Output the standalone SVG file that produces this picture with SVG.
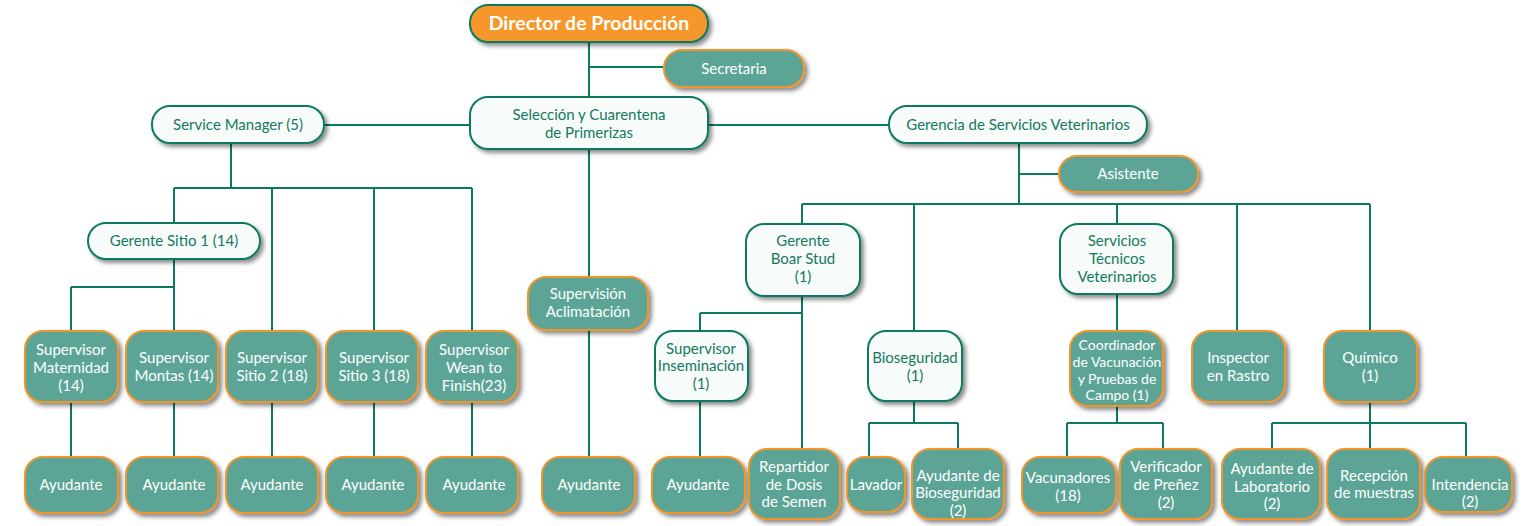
<svg xmlns="http://www.w3.org/2000/svg" width="1525" height="526" viewBox="0 0 1525 526">
<defs>
<filter id="sh" x="-20%" y="-20%" width="150%" height="160%">
<feDropShadow dx="3" dy="3" stdDeviation="2" flood-color="#000" flood-opacity="0.45"/>
</filter>
<style>
.n rect{stroke-width:2;filter:url(#sh)}
.w rect{fill:#f7fbf9;stroke:#0b7a5f}
.t rect{fill:#5ca596;stroke:#f0952c}
.o rect{fill:#f5972a;stroke:#0b7a5f}
text{font-family:Lato,"Noto Sans","Liberation Sans",sans-serif;font-size:15px;text-anchor:middle}
.w text{fill:#15795f}
.t text,.o text{fill:#ffffff}
.o text{font-weight:bold;font-size:19.5px}
.sm text{font-size:14px}
#edges path{fill:none;stroke:#0b7a5f;stroke-width:2}
</style>
</defs>
<rect width="1525" height="526" fill="#ffffff"/>
<g id="edges">
<path d="M589 42V97M589 67H664"/>
<path d="M324 125H470M708 125H889"/>
<path d="M589 149V277M589 330V457"/>
<path d="M231 143V188M174 188H472M174 188V223M272 188V331M374 188V331M472 188V331"/>
<path d="M174 259V331M71 287H174M71 287V331"/>
<path d="M71 402V457M174 402V457M272 402V457M374 402V457M472 402V457"/>
<path d="M1019 143V204M1019 174H1059M802 204H1370M802 204V224M914 204V331M1117 204V224M1237 204V331M1370 204V331"/>
<path d="M802 296V449M700 313H802M700 313V331M700 401V457"/>
<path d="M914 401V423M869 423H958M869 423V457M958 423V449"/>
<path d="M1117 294V331M1117 406V423M1067 423H1163M1067 423V457M1163 423V449"/>
<path d="M1370 402V449M1272 423H1466M1272 423V449M1466 423V457"/>
</g>
<g id="director" class="n o"><rect x="470" y="5" width="238" height="37" rx="18"/><text x="589" y="30">Director de Producción</text></g>
<g id="secretaria" class="n t"><rect x="664" y="50" width="140" height="37" rx="18"/><text x="734" y="74">Secretaria</text></g>
<g id="seleccion" class="n w"><rect x="470" y="97" width="238" height="52" rx="18"/><text x="589" y="120">Selección y Cuarentena</text><text x="589" y="138">de Primerizas</text></g>
<g id="service-manager" class="n w"><rect x="152" y="106" width="172" height="37" rx="18"/><text x="238" y="130">Service Manager (5)</text></g>
<g id="gerencia-vet" class="n w"><rect x="889" y="106" width="258" height="37" rx="18"/><text x="1018" y="130">Gerencia de Servicios Veterinarios</text></g>
<g id="asistente" class="n t"><rect x="1059" y="156" width="139" height="36" rx="18"/><text x="1128" y="179">Asistente</text></g>
<g id="gerente-sitio1" class="n w"><rect x="88" y="223" width="172" height="36" rx="18"/><text x="174" y="246">Gerente Sitio 1 (14)</text></g>
<g id="sup-maternidad" class="n t"><rect x="25" y="331" width="93" height="71" rx="18"/><text x="71" y="355">Supervisor</text><text x="71" y="373">Maternidad</text><text x="71" y="391">(14)</text></g>
<g id="sup-montas" class="n t"><rect x="126" y="331" width="92" height="71" rx="18"/><text x="174" y="363">Supervisor</text><text x="174" y="381">Montas (14)</text></g>
<g id="sup-sitio2" class="n t"><rect x="226" y="331" width="92" height="71" rx="18"/><text x="272" y="363">Supervisor</text><text x="272" y="381">Sitio 2 (18)</text></g>
<g id="sup-sitio3" class="n t"><rect x="326" y="331" width="92" height="71" rx="18"/><text x="374" y="363">Supervisor</text><text x="374" y="381">Sitio 3 (18)</text></g>
<g id="sup-wean" class="n t"><rect x="426" y="331" width="92" height="71" rx="18"/><text x="474" y="355">Supervisor</text><text x="474" y="373">Wean to</text><text x="474" y="391">Finish(23)</text></g>
<g id="ayu-1" class="n t"><rect x="25" y="457" width="93" height="56" rx="18"/><text x="71" y="490">Ayudante</text></g>
<g id="ayu-2" class="n t"><rect x="126" y="457" width="92" height="56" rx="18"/><text x="174" y="490">Ayudante</text></g>
<g id="ayu-3" class="n t"><rect x="226" y="457" width="92" height="56" rx="18"/><text x="272" y="490">Ayudante</text></g>
<g id="ayu-4" class="n t"><rect x="326" y="457" width="92" height="56" rx="18"/><text x="373" y="490">Ayudante</text></g>
<g id="ayu-5" class="n t"><rect x="426" y="457" width="92" height="56" rx="18"/><text x="474" y="490">Ayudante</text></g>
<g id="sup-aclimatacion" class="n t"><rect x="528" y="277" width="120" height="53" rx="18"/><text x="588" y="299">Supervisión</text><text x="588" y="317">Aclimatación</text></g>
<g id="ayu-6" class="n t"><rect x="542" y="457" width="93" height="56" rx="18"/><text x="589" y="490">Ayudante</text></g>
<g id="gerente-boar" class="n w"><rect x="746" y="224" width="114" height="72" rx="18"/><text x="803" y="246">Gerente</text><text x="803" y="264">Boar Stud</text><text x="803" y="282">(1)</text></g>
<g id="sup-inseminacion" class="n w"><rect x="655" y="331" width="93" height="70" rx="18"/><text x="701" y="354">Supervisor</text><text x="701" y="371">Inseminación</text><text x="701" y="389">(1)</text></g>
<g id="ayu-7" class="n t"><rect x="652" y="457" width="93" height="56" rx="18"/><text x="698" y="490">Ayudante</text></g>
<g id="repartidor" class="n t"><rect x="749" y="449" width="91" height="70" rx="18"/><text x="794" y="472">Repartidor</text><text x="794" y="490">de Dosis</text><text x="794" y="507">de Semen</text></g>
<g id="bioseguridad" class="n w"><rect x="868" y="331" width="94" height="70" rx="18"/><text x="915" y="363">Bioseguridad</text><text x="915" y="381">(1)</text></g>
<g id="lavador" class="n t"><rect x="847" y="457" width="58" height="55" rx="18"/><text x="876" y="490">Lavador</text></g>
<g id="ayu-bio" class="n t"><rect x="912" y="449" width="92" height="70" rx="18"/><text x="958" y="481">Ayudante de</text><text x="958" y="498">Bioseguridad</text><text x="958" y="516">(2)</text></g>
<g id="serv-tec" class="n w"><rect x="1060" y="224" width="113" height="70" rx="18"/><text x="1117" y="246">Servicios</text><text x="1117" y="264">Técnicos</text><text x="1117" y="282">Veterinarios</text></g>
<g id="coordinador" class="n t sm"><rect x="1070" y="331" width="93" height="75" rx="18"/><text x="1117" y="350">Coordinador</text><text x="1117" y="367">de Vacunación</text><text x="1117" y="384">y Pruebas de</text><text x="1117" y="400">Campo (1)</text></g>
<g id="inspector" class="n t"><rect x="1192" y="331" width="93" height="71" rx="18"/><text x="1238" y="363">Inspector</text><text x="1238" y="381">en Rastro</text></g>
<g id="quimico" class="n t"><rect x="1324" y="331" width="93" height="71" rx="18"/><text x="1370" y="363">Químico</text><text x="1370" y="381">(1)</text></g>
<g id="vacunadores" class="n t"><rect x="1022" y="457" width="94" height="56" rx="18"/><text x="1068" y="483">Vacunadores</text><text x="1068" y="501">(18)</text></g>
<g id="verificador" class="n t"><rect x="1120" y="449" width="92" height="70" rx="18"/><text x="1166" y="472">Verificador</text><text x="1166" y="490">de Preñez</text><text x="1166" y="508">(2)</text></g>
<g id="ayu-lab" class="n t"><rect x="1222" y="449" width="98" height="70" rx="18"/><text x="1272" y="474">Ayudante de</text><text x="1272" y="492">Laboratorio</text><text x="1272" y="509">(2)</text></g>
<g id="recepcion" class="n t"><rect x="1327" y="449" width="93" height="70" rx="18"/><text x="1374" y="481">Recepción</text><text x="1374" y="498">de muestras</text></g>
<g id="intendencia" class="n t"><rect x="1425" y="457" width="87" height="55" rx="18"/><text x="1470" y="490">Intendencia</text><text x="1470" y="507">(2)</text></g>
</svg>
